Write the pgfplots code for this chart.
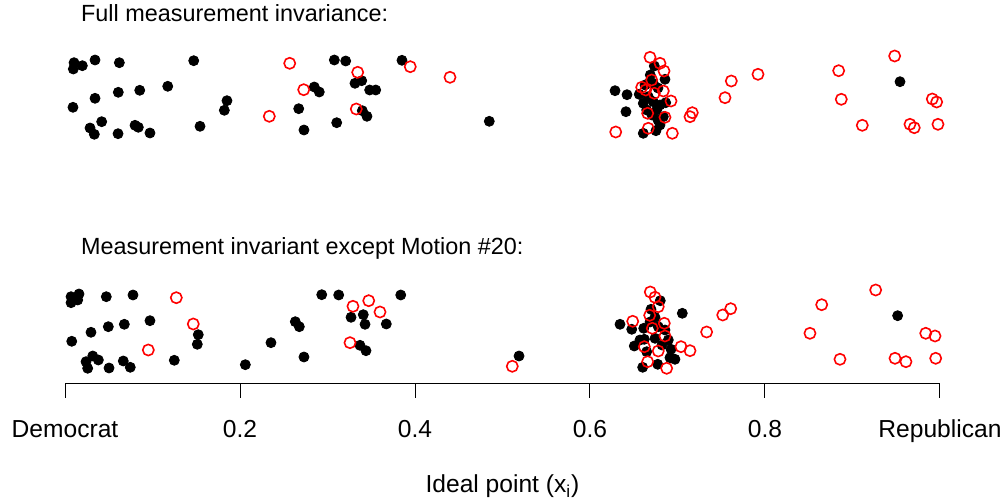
\documentclass[border=0pt]{standalone}
\usepackage{fontspec}
\setmainfont{Liberation Sans}
\usepackage{pgfplots}
\pgfplotsset{compat=1.18}
\usepackage{pgfplotstable}

% ideal points (x) and vertical jitter (y) of each legislator
\pgfplotstableread{
x y
0.0103 441.3
0.0095 435
0.0198 438.3
0.0343 444
0.0621 441.3
0.1471 443.3
0.1174 417.7
0.0854 413.7
0.0609 411.7
0.0343 405.7
0.0091 396.7
0.1851 403.3
0.1821 393.7
0.0419 382.3
0.0286 376
0.0335 369.7
0.0606 370.3
0.0800 378.7
0.0838 376.7
0.0971 371
0.1543 377.7
0.3078 444
0.3208 443
0.3851 443.7
0.2849 417
0.2906 412
0.3314 420.7
0.3391 423.3
0.3482 414
0.3551 414
0.3398 393.3
0.3451 387.7
0.2671 395.3
0.2731 374
0.3105 381.3
0.4849 382.7
0.6735 438
0.6857 424.7
0.6689 429
0.6678 421.3
0.6723 420.7
0.6286 413.3
0.6423 409.3
0.6563 409.7
0.6666 407.3
0.6609 400.7
0.6723 402.3
0.6865 401.3
0.6411 392.3
0.6648 394
0.6762 394
0.6838 387.3
0.6800 379
0.6754 373.3
0.6609 370.7
0.6777 416
0.6629 419
0.6800 399
0.6709 389
0.6777 384
0.9543 422.3
}\topblack

\pgfplotstableread{
x y
0.2335 387.7
0.2568 440.7
0.3946 437.3
0.3345 431.7
0.4400 426.7
0.2728 414.3
0.3329 395
0.6686 446.7
0.6800 440.7
0.6846 433
0.6591 416.7
0.6705 424
0.6637 414
0.6735 410.7
0.6838 413
0.6926 403
0.6659 390.7
0.6857 386.7
0.7143 387.3
0.7169 391.3
0.6666 375.7
0.6294 372
0.6941 370.7
0.7615 423
0.7920 429.7
0.7543 406.3
0.8842 433.3
0.9482 448
0.8872 404.7
0.9112 378.7
0.9912 405
0.9962 402
0.9657 379.7
0.9706 376.3
0.9977 379.7
}\topred

\pgfplotstableread{
x y
0.0069 207.3
0.0160 210
0.0145 204
0.0069 201.3
0.0472 207.3
0.0777 209
0.0971 183.3
0.0678 179.7
0.0495 177.3
0.0297 171.7
0.1523 169.3
0.1512 159.7
0.0077 162.7
0.2354 161.3
0.0317 148
0.0381 144
0.0240 142.3
0.0259 135.7
0.0666 143
0.0746 136.7
0.0503 136
0.1249 143.7
0.2061 139.3
0.2934 209.3
0.3128 209
0.3837 209
0.3409 189.3
0.3269 186.7
0.3429 179.7
0.3672 180
0.2632 182.3
0.2678 177.3
0.3371 158.7
0.3440 153.3
0.2731 147
0.5189 148
0.6803 203.3
0.6697 194.7
0.7055 190.7
0.6743 186.7
0.6343 179.7
0.6477 174.7
0.6614 175.7
0.6780 177.3
0.6621 164.7
0.6743 165.7
0.6895 164
0.6506 158
0.6648 152.3
0.6926 154.7
0.6914 146.3
0.6971 144.7
0.6774 139.7
0.6602 136.7
0.6686 182
0.6823 159
0.6571 164
0.6857 174
0.9516 188.3
}\botblack

\pgfplotstableread{
x y
0.1272 206.3
0.1466 180
0.0952 154
0.3471 203.3
0.3291 197.7
0.3600 192
0.3257 161.3
0.5112 137.7
0.6689 212
0.6743 206.7
0.6780 197.3
0.6682 188.7
0.6488 182.7
0.6849 180.7
0.6712 175.7
0.6857 168
0.6621 157.3
0.6780 153
0.7040 157.3
0.7143 153.3
0.6659 142.3
0.6876 135.7
0.7333 172
0.7608 195.3
0.7517 189
0.8648 199.3
0.9265 214
0.8514 170.7
0.8857 144.7
0.9837 170.7
0.9943 168
0.9486 145.7
0.9611 142.3
0.9951 145.7
}\botred

\begin{document}
\begin{tikzpicture}[font=\fontsize{12.3}{14}\selectfont]
\begin{axis}[
  width=437.5pt, height=192pt, scale only axis,
  xmin=0, xmax=1, ymin=120, ymax=504,
  enlargelimits=false, clip=false,
  axis x line=bottom, axis y line=none,
  x axis line style={-, line width=0.5pt},
  xtick={0,0.2,0.4,0.6,0.8,1},
  xticklabels={Democrat,0.2,0.4,0.6,0.8,Republican},
  tick align=outside, major tick length=7pt,
  xtick style={black, line width=0.5pt},
  xticklabel style={anchor=base, yshift=-20pt, inner sep=0pt},
  xlabel={Ideal point (x\textsubscript{i})},
  xlabel style={at={(axis cs:0.5,11)}, anchor=base, inner sep=0pt},
]
\path (axis cs:-0.0743,0) rectangle (axis cs:1.0743,504);
\addplot[only marks, mark=*, mark size=2.5pt, black] table {\topblack};
\addplot[only marks, mark=o, mark size=2.8pt, red, line width=0.8pt, fill=none] table {\topred};
\addplot[only marks, mark=*, mark size=2.5pt, black] table {\botblack};
\addplot[only marks, mark=o, mark size=2.8pt, red, line width=0.8pt, fill=none] table {\botred};
\node[anchor=base west, inner sep=0pt, font=\fontsize{11.7}{14}\selectfont] at (axis cs:0.018,482) {Full measurement invariance:};
\node[anchor=base west, inner sep=0pt, font=\fontsize{11.7}{14}\selectfont] at (axis cs:0.018,249) {Measurement invariant except Motion \#20:};
\end{axis}
\end{tikzpicture}
\end{document}
